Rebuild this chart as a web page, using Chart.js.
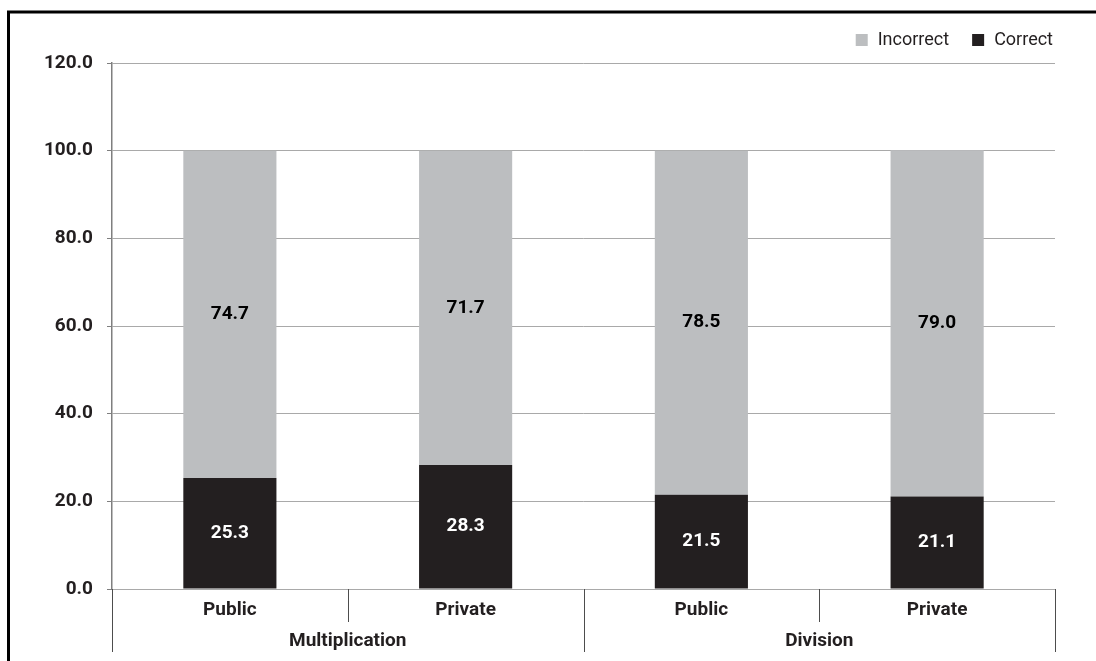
<!DOCTYPE html>
<html>
<head>
<meta charset="utf-8">
<script src="https://cdn.jsdelivr.net/npm/chart.js@4.4.1/dist/chart.umd.min.js"></script>
<style>
  html, body { margin: 0; padding: 0; background: #fff; }
  #wrap { width: 1096px; height: 661px; position: relative; }
</style>
</head>
<body>
<div id="wrap"><canvas id="opsChart" width="1096" height="661"></canvas></div>
<script>
// Data
const schoolTypes = ['Public', 'Private', 'Public', 'Private'];
const operations = ['Multiplication', 'Division'];
const operationSpan = [2, 2];
const correctValues = [25.3, 28.3, 21.5, 21.1];
const incorrectValues = [74.7, 71.7, 78.5, 79.0];
const yTicks = [0, 20, 40, 60, 80, 100, 120];

// Colors
const greyColor = '#BCBEC0',
  darkColor = '#231F20',
  gridColor = '#A9A9A9',
  axisColor = '#7F7F7F',
  lineColor = '#4D4D4D';
const fontFamily = "Roboto, 'Liberation Sans', sans-serif";

// frame around the picture (left + top)
const framePlugin = {
  id: 'frame',
  beforeDraw(chart) {
    const ctx = chart.ctx;
    ctx.save();
    ctx.fillStyle = '#fff';
    ctx.fillRect(0, 0, chart.width, chart.height);
    ctx.strokeStyle = '#000';
    ctx.lineWidth = 3;
    ctx.beginPath();
    ctx.moveTo(8.5, chart.height);
    ctx.lineTo(8.5, 12);
    ctx.lineTo(chart.width, 12);
    ctx.stroke();
    ctx.restore();
  }
};

// value labels in the middle of every segment
const segmentLabels = {
  id: 'segmentLabels',
  afterDatasetsDraw(chart) {
    const ctx = chart.ctx;
    ctx.save();
    ctx.font = 'bold 19px ' + fontFamily;
    ctx.textAlign = 'center';
    ctx.textBaseline = 'middle';
    chart.data.datasets.forEach(function (ds, di) {
      chart.getDatasetMeta(di).data.forEach(function (bar, i) {
        const mid = (bar.y + bar.base) / 2;
        ctx.fillStyle = ds.labelColor;
        ctx.fillText(ds.data[i].toFixed(1), bar.x, mid);
      });
    });
    ctx.restore();
  }
};

// two level category axis: dividers + group names, plus the legend
const groupAxis = {
  id: 'groupAxis',
  afterDraw(chart) {
    const ctx = chart.ctx;
    const x = chart.scales.x;
    const area = chart.chartArea;
    const n = schoolTypes.length;
    const edges = [];
    for (let i = 0; i <= n; i++) {
      if (i === 0) edges.push(area.left);
      else if (i === n) edges.push(area.right);
      else edges.push((x.getPixelForValue(i - 1) + x.getPixelForValue(i)) / 2);
    }
    const groupEdges = [0];
    operationSpan.forEach(function (s) { groupEdges.push(groupEdges[groupEdges.length - 1] + s); });

    ctx.save();
    ctx.strokeStyle = lineColor;
    ctx.lineWidth = 1;
    edges.forEach(function (ex, i) {
      const isGroup = groupEdges.indexOf(i) !== -1;
      const px = Math.round(ex) + 0.5;
      ctx.beginPath();
      ctx.moveTo(px, area.bottom);
      ctx.lineTo(px, isGroup ? 652 : 622);
      ctx.stroke();
    });
    ctx.fillStyle = darkColor;
    ctx.font = 'bold 19px ' + fontFamily;
    ctx.textAlign = 'center';
    ctx.textBaseline = 'middle';
    operations.forEach(function (name, g) {
      const cx = (edges[groupEdges[g]] + edges[groupEdges[g + 1]]) / 2;
      ctx.fillText(name, cx, 641);
    });

    // legend, right aligned above the plot (Correct rightmost)
    ctx.font = '18px ' + fontFamily;
    ctx.textAlign = 'left';
    let right = 1053;
    const legendY = 40;
    chart.data.datasets.forEach(function (ds) {
      const w = ctx.measureText(ds.label).width;
      const tx = right - w;
      ctx.fillStyle = darkColor;
      ctx.fillText(ds.label, tx, legendY);
      ctx.fillStyle = ds.backgroundColor;
      ctx.fillRect(tx - 22, legendY - 6, 12, 12);
      right = tx - 22 - 23;
    });
    ctx.restore();
  }
};

const ctx = document.getElementById('opsChart');
new Chart(ctx, {
  type: 'bar',
  data: {
    labels: schoolTypes,
    datasets: [
      {
        label: 'Correct',
        data: correctValues,
        backgroundColor: darkColor,
        labelColor: '#FFFFFF',
        categoryPercentage: 1,
        barPercentage: 0.395
      },
      {
        label: 'Incorrect',
        data: incorrectValues,
        backgroundColor: greyColor,
        labelColor: '#000000',
        categoryPercentage: 1,
        barPercentage: 0.395
      }
    ]
  },
  options: {
    responsive: false,
    animation: false,
    devicePixelRatio: 1,
    layout: {
      padding: { left: 0, top: 63, right: 41, bottom: 0 }
    },
    plugins: {
      legend: { display: false },
      tooltip: { enabled: false }
    },
    scales: {
      x: {
        stacked: true,
        grid: { display: false, drawTicks: false },
        border: { display: false },
        ticks: {
          color: darkColor,
          padding: 10,
          font: { family: fontFamily, size: 19, weight: 'bold' }
        },
        afterFit(scale) { scale.height = 72; }
      },
      y: {
        stacked: true,
        min: 0,
        max: 120,
        afterBuildTicks(scale) {
          scale.ticks = yTicks.map(function (v) { return { value: v }; });
        },
        grid: {
          color: gridColor,
          tickColor: axisColor,
          tickLength: 5
        },
        border: { color: axisColor, width: 1.5 },
        ticks: {
          color: darkColor,
          padding: 14,
          font: { family: fontFamily, size: 19, weight: 'bold' },
          callback: function (v) { return Number(v).toFixed(1); }
        },
        afterFit(scale) { scale.width = 112; }
      }
    }
  },
  plugins: [framePlugin, segmentLabels, groupAxis]
});
</script>
</body>
</html>
